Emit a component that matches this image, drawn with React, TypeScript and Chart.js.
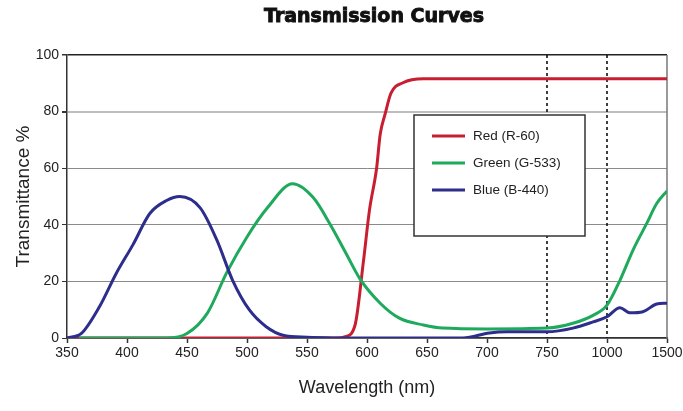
import React, { useEffect, useRef } from "react";
import { Chart, registerables } from "chart.js";

Chart.register(...registerables);

// ---- data ----
const xTickLabels = ["350", "400", "450", "500", "550", "600", "650", "700", "750", "1000", "1500"];
const xTickWavelengths = [350, 400, 450, 500, 550, 600, 650, 700, 750, 1000, 1500];
const dashedAt = [750, 1000];

const redWl = [350, 450, 500, 550, 575, 582, 590, 597, 602, 608, 611, 615, 620, 630, 647, 700, 750, 1000, 1500];
const redT = [0, 0, 0, 0, 0, 0.5, 4.5, 27, 45, 60, 72, 79, 86.5, 90.2, 91.6, 91.6, 91.6, 91.6, 91.6];

const greenWl = [360, 433, 450, 467, 483, 500, 517, 538, 555, 569, 583, 594, 611, 627, 647, 663, 700, 750, 858, 942, 1000, 1108, 1216, 1330, 1414, 1500];
const greenT = [0, 0, 1.6, 8.8, 23, 35.7, 46, 54.5, 49.7, 40.4, 29.5, 21, 12.3, 7, 4.6, 3.5, 3.2, 3.5, 5.2, 8, 11.6, 20.4, 31, 40.4, 47.5, 52];

const blueWl = [350, 362, 377, 391, 405, 419, 433, 444, 461, 475, 488, 502, 516, 530, 550, 600, 680, 702, 717, 750, 858, 942, 1000, 1108, 1191, 1300, 1414, 1500];
const blueT = [0, 1.6, 11, 22.8, 33, 44, 48.6, 50, 46, 34.5, 20.4, 9.9, 4, 1, 0.3, 0, 0, 1.8, 2.2, 2.2, 3.5, 5.7, 7.5, 10.7, 8.9, 9.3, 12, 12.3];

const seriesLabels = ["Red (R-60)", "Green (G-533)", "Blue (B-440)"];
const seriesColors = ["#c81e32", "#1fa95c", "#2d2d8c"];

// piecewise axis: equal spacing between the tick wavelengths
function toPos(w: number): number {
  for (let i = 0; i < xTickWavelengths.length - 1; i++) {
    const a = xTickWavelengths[i];
    const b = xTickWavelengths[i + 1];
    if (w <= b) return i + (w - a) / (b - a);
  }
  return xTickWavelengths.length - 1;
}

const toPts = (wl: number[], t: number[]) => wl.map((w, i) => ({ x: toPos(w), y: t[i] }));

const FONT = '"Liberation Sans", Arial, sans-serif';

const decorPlugin = {
  id: "decor",
  beforeDatasetsDraw(chart: any) {
    const { ctx, chartArea, scales } = chart;
    ctx.save();
    // right border
    ctx.strokeStyle = "#777";
    ctx.lineWidth = 1.5;
    ctx.beginPath();
    ctx.moveTo(chartArea.right, chartArea.top);
    ctx.lineTo(chartArea.right, chartArea.bottom);
    ctx.stroke();
    // dashed lines
    ctx.strokeStyle = "#111";
    ctx.lineWidth = 1.6;
    ctx.setLineDash([3, 3]);
    dashedAt.forEach((w) => {
      const x = scales.x.getPixelForValue(toPos(w));
      ctx.beginPath();
      ctx.moveTo(x, chartArea.top);
      ctx.lineTo(x, chartArea.bottom);
      ctx.stroke();
    });
    ctx.restore();
  },
  afterDraw(chart: any) {
    const { ctx, chartArea } = chart;
    ctx.save();
    // title
    ctx.fillStyle = "#111";
    ctx.strokeStyle = "#111";
    ctx.lineWidth = 0.9;
    ctx.font = 'bold 19px "DejaVu Sans", sans-serif';
    ctx.textAlign = "center";
    ctx.textBaseline = "middle";
    ctx.fillText("Transmission Curves", 374, 17);
    ctx.strokeText("Transmission Curves", 374, 17);

    // legend box
    const bx = chartArea.left + 347;
    const by = chartArea.top + 60;
    const bw = 171;
    const bh = 121;
    ctx.fillStyle = "#fff";
    ctx.fillRect(bx, by, bw, bh);
    ctx.strokeStyle = "#333";
    ctx.lineWidth = 1.5;
    ctx.strokeRect(bx, by, bw, bh);
    ctx.font = `13.5px ${FONT}`;
    ctx.textAlign = "left";
    ctx.textBaseline = "middle";
    chart.data.datasets.forEach((ds: any, i: number) => {
      const y = by + 21 + i * 27;
      ctx.strokeStyle = ds.borderColor;
      ctx.lineWidth = 3;
      ctx.beginPath();
      ctx.moveTo(bx + 18, y);
      ctx.lineTo(bx + 51, y);
      ctx.stroke();
      ctx.fillStyle = "#222";
      ctx.fillText(ds.label, bx + 59, y);
    });
    ctx.restore();
  },
};

export default function App() {
  const ref = useRef<HTMLCanvasElement>(null);
  useEffect(() => {
    if (!ref.current) return;
    const chart = new Chart(ref.current, {
      type: "line",
      data: {
        datasets: [
          { label: seriesLabels[0], data: toPts(redWl, redT), borderColor: seriesColors[0], order: 3 },
          { label: seriesLabels[1], data: toPts(greenWl, greenT), borderColor: seriesColors[1], order: 2 },
          { label: seriesLabels[2], data: toPts(blueWl, blueT), borderColor: seriesColors[2], order: 1 },
        ].map((d) => ({
          ...d,
          borderWidth: 3,
          pointRadius: 0,
          fill: false,
          cubicInterpolationMode: "monotone" as const,
          tension: 0.4,
        })),
      },
      options: {
        animation: false,
        responsive: true,
        maintainAspectRatio: false,
        devicePixelRatio: 1,
        layout: { padding: { top: 55, right: 16, left: 0, bottom: 0 } },
        plugins: { legend: { display: false }, tooltip: { enabled: false }, title: { display: false } },
        scales: {
          x: {
            type: "linear",
            min: 0,
            max: 10,
            afterFit: (s: any) => {
              s.height = 73;
              s.paddingRight = 0;
              s.paddingLeft = 0;
            },
            ticks: {
              stepSize: 1,
              autoSkip: false,
              maxRotation: 0,
              padding: 2,
              color: "#222",
              font: { family: FONT, size: 14 },
              callback: (v: any) => xTickLabels[Math.round(Number(v))] ?? "",
            },
            grid: { drawOnChartArea: false, drawTicks: true, tickLength: 5, color: "#333", tickWidth: 1.5 },
            border: { color: "#333", width: 1.5 },
            title: {
              display: true,
              text: "Wavelength (nm)",
              color: "#222",
              font: { family: FONT, size: 18 },
              padding: { top: 0, bottom: 12 },
            },
          },
          y: {
            min: 0,
            max: 100,
            afterFit: (s: any) => {
              s.width = 67;
            },
            ticks: {
              stepSize: 20,
              padding: 3,
              color: "#222",
              font: { family: FONT, size: 14 },
            },
            grid: {
              drawTicks: true,
              tickLength: 5,
              color: (c: any) => (c.tick.value === 100 ? "#222" : c.tick.value === 80 ? "#bdbdbd" : "#8a8a8a"),
              lineWidth: (c: any) => (c.tick.value === 80 ? 2 : c.tick.value === 100 ? 1.5 : 1),
              tickColor: "#333",
            },
            border: { color: "#333", width: 1.5 },
            title: {
              display: true,
              text: "Transmittance %",
              color: "#222",
              font: { family: FONT, size: 19 },
              padding: { top: 12, bottom: 0 },
            },
          },
        },
      },
      plugins: [decorPlugin],
    });
    return () => chart.destroy();
  }, []);
  return (
    <div style={{ position: "fixed", left: 0, top: 0, width: 683, height: 411, background: "#fff" }}>
      <canvas ref={ref} />
    </div>
  );
}
